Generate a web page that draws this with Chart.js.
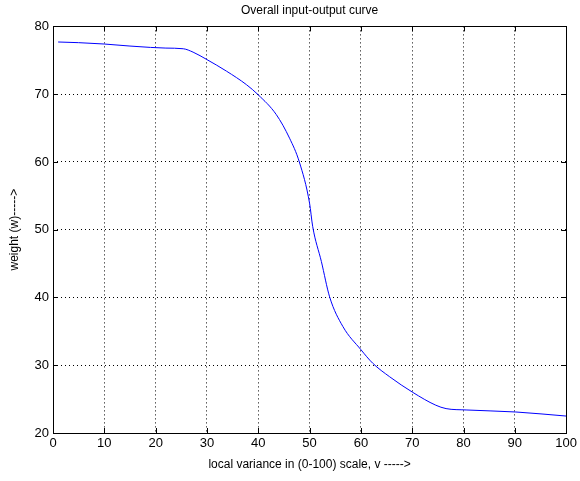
<!DOCTYPE html>
<html>
<head>
<meta charset="utf-8">
<script src="https://cdn.jsdelivr.net/npm/chart.js@4"></script>
<style>
  html, body { margin: 0; padding: 0; background: #fff; }
  #wrap { width: 580px; height: 481px; }
</style>
</head>
<body>
<div id="wrap"><canvas id="curve" width="580" height="481"></canvas></div>
<script>
// ---------- Data ----------
const variance = [1, 5, 10, 15, 19, 22, 25.4, 27.3, 30, 33.8, 37.7, 40, 43.5, 46.1, 48, 50, 50.6, 52.3, 53.9, 56.5, 60, 62.3, 65.6, 70.1, 74.6, 76.6, 80.5, 90.2, 100];
const weight = [77.7, 77.6, 77.4, 77.1, 76.9, 76.8, 76.7, 76.2, 75.1, 73.4, 71.4, 69.9, 67, 63.5, 60, 53.9, 50.5, 45.3, 40.1, 35.7, 32.3, 30.3, 28.3, 26.0, 24.1, 23.6, 23.4, 23.1, 22.5];
const xTicks = [0, 10, 20, 30, 40, 50, 60, 70, 80, 90, 100];
const yTicks = [20, 30, 40, 50, 60, 70, 80];

const FONT = "'Liberation Sans', Arial, sans-serif";

// ---------- Box around the axes ----------
const boxPlugin = {
  id: "box",
  afterDraw(chart) {
    const a = chart.chartArea;
    const ctx = chart.ctx;
    ctx.save();
    ctx.strokeStyle = "#000";
    ctx.lineWidth = 1;
    ctx.strokeRect(Math.round(a.left) + 0.5, Math.round(a.top) + 0.5,
      Math.round(a.right - a.left), Math.round(a.bottom - a.top));
    // small inward ticks like matlab
    ctx.beginPath();
    xTicks.forEach((t) => {
      const x = Math.round(chart.scales.x.getPixelForValue(t)) + 0.5;
      ctx.moveTo(x, a.bottom); ctx.lineTo(x, a.bottom - 5);
      ctx.moveTo(x, a.top); ctx.lineTo(x, a.top + 5);
    });
    yTicks.forEach((t) => {
      const y = Math.round(chart.scales.y.getPixelForValue(t)) + 0.5;
      ctx.moveTo(a.left, y); ctx.lineTo(a.left + 5, y);
      ctx.moveTo(a.right, y); ctx.lineTo(a.right - 5, y);
    });
    ctx.stroke();
    ctx.restore();
  },
};

// ---------- Chart ----------
new Chart(document.getElementById("curve"), {
  type: "line",
  data: {
    datasets: [
      {
        data: variance.map((v, i) => ({ x: v, y: weight[i] })),
        borderColor: "#0000ff",
        borderWidth: 1,
        pointRadius: 0,
        cubicInterpolationMode: "monotone",
        fill: false,
      },
    ],
  },
  options: {
    responsive: false,
    animation: false,
    layout: { padding: { right: 13, left: 3, top: 0, bottom: 4 } },
    plugins: {
      legend: { display: false },
      tooltip: { enabled: false },
      title: {
        display: true,
        text: "Overall input-output curve",
        fullSize: false,
        color: "#000",
        font: { family: FONT, size: 12, weight: "normal" },
        padding: { top: 3, bottom: 9 },
      },
    },
    scales: {
      x: {
        type: "linear",
        min: 0,
        max: 100,
        afterBuildTicks: (s) => { s.ticks = xTicks.map((v) => ({ value: v })); },
        afterFit: (s) => { s.height = 44; },
        ticks: { color: "#000", font: { family: FONT, size: 13 }, padding: 3, maxRotation: 0 },
        grid: { color: "#000", drawTicks: false, lineWidth: 1 },
        border: { display: false, dash: [1, 3] },
        title: {
          display: true,
          text: "local variance in (0-100) scale, v ----->",
          color: "#000",
          font: { family: FONT, size: 12 },
          padding: { top: 2, bottom: 5 },
        },
      },
      y: {
        min: 20,
        max: 80,
        afterBuildTicks: (s) => { s.ticks = yTicks.map((v) => ({ value: v })); },
        afterFit: (s) => { s.width = 50; },
        ticks: { color: "#000", font: { family: FONT, size: 13 }, padding: 4 },
        grid: { color: "#000", drawTicks: false, lineWidth: 1 },
        border: { display: false, dash: [1, 3] },
        title: {
          display: true,
          text: "weight (w)----->",
          color: "#000",
          font: { family: FONT, size: 12 },
          padding: { bottom: 0 },
        },
      },
    },
  },
  plugins: [boxPlugin],
});
</script>
</body>
</html>
